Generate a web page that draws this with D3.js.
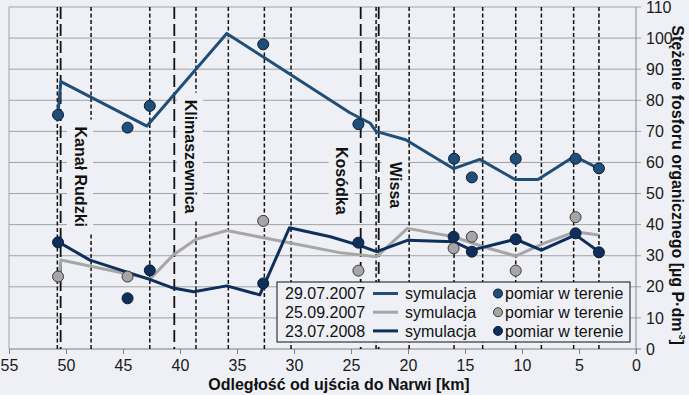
<!DOCTYPE html>
<html>
<head>
<meta charset="utf-8">
<script src="https://cdn.jsdelivr.net/npm/d3@7"></script>
<style>
    html, body { margin: 0; padding: 0; background: #eef0f5; }
    svg { display: block; font-family: "Liberation Sans", Arial, sans-serif; }
</style>
</head>
<body>
<div id="chart"></div>
<script>
// Organic phosphorus along the river: simulation vs field measurements

const kmTicks = [55, 50, 45, 40, 35, 30, 25, 20, 15, 10, 5, 0];
const valueTicks = [0, 10, 20, 30, 40, 50, 60, 70, 80, 90, 100, 110];

// simulation lines [km, value]
const sim20070729 = [[50.7, 76], [50.45, 86], [42.9, 71.7], [35.9, 101.5], [25.1, 76], [23.3, 72.6],
    [22.8, 70], [20.2, 67.3], [16.0, 58], [13.7, 61], [10.6, 54.5], [8.6, 54.5], [5.4, 62], [3.25, 58]];
const sim20070925 = [[50.6, 24.4], [50.45, 28.6], [42.6, 22.6], [40.6, 30.2], [38.6, 35.3], [35.9, 38.1],
    [26.0, 31], [22.75, 29.7], [20.05, 38.8], [16.0, 36.1], [13.4, 32.9], [10.55, 29.9], [8.1, 34],
    [5.35, 37.7], [3.3, 36.7]];
const sim20080723 = [[50.7, 34.5], [47.9, 28.6], [42.6, 22.3], [40.6, 19.6], [38.8, 18.4], [35.9, 20.3],
    [33.0, 17.4], [30.4, 39], [26.8, 36.1], [24.35, 33.4], [22.75, 31.3], [20.0, 35], [16.0, 34.5],
    [14.4, 31.8], [10.55, 35.3], [8.3, 31.8], [5.3, 36.7], [3.25, 31.3]];

// field measurements [km, value]
const meas20070729 = [[50.7, 75.3], [44.6, 71.2], [42.65, 78.2], [32.7, 98], [24.35, 72.3], [15.96, 61.2],
    [14.4, 55.2], [10.55, 61.2], [5.3, 61.2], [3.25, 58.1]];
const meas20070925 = [[50.7, 23.3], [44.6, 23.3], [32.7, 41.2], [24.35, 25.2], [16.0, 32.4], [14.4, 36.1],
    [10.55, 25.2], [5.3, 42.4]];
const meas20080723 = [[50.7, 34.3], [44.6, 16.3], [42.65, 25.3], [32.7, 21.1], [24.35, 34.2], [16.0, 36.1],
    [14.4, 31.3], [10.55, 35.3], [5.3, 37.2], [3.25, 31.1]];

// cross-sections (short dash) and tributary mouths (long dash)
const sectionKm = [50.76, 47.8, 42.65, 38.6, 35.76, 32.6, 30.26, 22.8, 19.9, 15.96, 13.45, 10.55, 8.3, 5.47, 3.25];
const tributaryKm = [50.47, 40.5, 24.15, 22.57];

const tributaryNames = ["Kanał Rudzki", "Klimaszewnica", "Kosódka", "Wissa"];
const tributaryLabelKm = [48.77, 39.12, 25.82, 21.14];
const tributaryLabelVal = [55.4, 61.9, 54.1, 52.7];

const legendDates = ["29.07.2007", "25.09.2007", "23.07.2008"];
const seriesColors = ["#1f4e79", "#a6a6a6", "#0e2f5b"];

const width = 689, height = 395;
const bg = "#eef0f5";
const margin = { top: 7, right: 53, bottom: 46, left: 9 };

const svg = d3.select("#chart").append("svg")
    .attr("width", width)
    .attr("height", height);

svg.append("rect").attr("width", width).attr("height", height).attr("fill", bg);

const x = d3.scaleLinear().domain([55, 0]).range([margin.left, width - margin.right]);
const y = d3.scaleLinear().domain([0, 110]).range([height - margin.bottom, margin.top]);

// Horizontal gridlines (extend past the right axis as ticks)
svg.append("g")
    .selectAll("line")
    .data(valueTicks)
    .enter().append("line")
    .attr("x1", x(55))
    .attr("x2", x(0) + 5)
    .attr("y1", d => y(d))
    .attr("y2", d => y(d))
    .attr("stroke", d => d === 0 ? "#7f7f7f" : "#a3a3a3")
    .attr("stroke-width", 1);

// Left border and right axis line
svg.append("line")
    .attr("x1", x(55)).attr("x2", x(55))
    .attr("y1", y(110)).attr("y2", y(0))
    .attr("stroke", "#a3a3a3");
svg.append("line")
    .attr("x1", x(0)).attr("x2", x(0))
    .attr("y1", y(110)).attr("y2", y(0) + 5)
    .attr("stroke", "#8a8a8a");

// Bottom axis
const xAxis = d3.axisBottom(x)
    .tickValues(kmTicks)
    .tickSize(5)
    .tickFormat(d => d);

svg.append("g")
    .attr("transform", `translate(0,${y(0)})`)
    .call(xAxis)
    .call(g => g.select(".domain").remove())
    .call(g => g.selectAll(".tick line").attr("stroke", "#7f7f7f"))
    .call(g => g.selectAll(".tick text")
        .attr("font-size", 16)
        .attr("font-family", "Liberation Sans, Arial, sans-serif")
        .attr("fill", "#1a1a1a")
        .attr("dy", "0.32em")
        .attr("y", 17));

// Right axis labels
const yAxis = d3.axisRight(y)
    .tickValues(valueTicks)
    .tickSize(0)
    .tickPadding(10)
    .tickFormat(d => d);

svg.append("g")
    .attr("transform", `translate(${x(0)},0)`)
    .call(yAxis)
    .call(g => g.select(".domain").remove())
    .call(g => g.selectAll(".tick text")
        .attr("font-size", 16)
        .attr("font-family", "Liberation Sans, Arial, sans-serif")
        .attr("fill", "#1a1a1a"));

// Cross-section lines
svg.append("g")
    .selectAll("line")
    .data(sectionKm)
    .enter().append("line")
    .attr("x1", d => x(d)).attr("x2", d => x(d))
    .attr("y1", y(110)).attr("y2", y(0))
    .attr("stroke", "#111")
    .attr("stroke-width", 1.5)
    .attr("stroke-dasharray", "4,2.5");

// Tributary labels with background boxes (hide grid behind them)
const labelG = svg.append("g");
tributaryNames.forEach((name, i) => {
    const cx = x(tributaryLabelKm[i]);
    const cy = y(tributaryLabelVal[i]);
    const g = labelG.append("g");
    const rect = g.append("rect").attr("fill", bg);
    const t = g.append("text")
        .attr("transform", `translate(${cx},${cy}) rotate(90)`)
        .attr("text-anchor", "middle")
        .attr("dominant-baseline", "central")
        .attr("font-size", 16)
        .attr("font-weight", "bold")
        .attr("fill", "#111")
        .text(name);
    const len = t.node().getComputedTextLength();
    rect.attr("x", cx - 13).attr("y", cy - len / 2 - 7)
        .attr("width", 26).attr("height", len + 14);
});

// Tributary mouth lines
svg.append("g")
    .selectAll("line")
    .data(tributaryKm)
    .enter().append("line")
    .attr("x1", d => x(d)).attr("x2", d => x(d))
    .attr("y1", y(110)).attr("y2", y(0))
    .attr("stroke", "#111")
    .attr("stroke-width", 1.8)
    .attr("stroke-dasharray", "12,5");

// Simulation lines
const line = d3.line()
    .x(d => x(d[0]))
    .y(d => y(d[1]));

const sims = [sim20070925, sim20070729, sim20080723];
const simColors = [seriesColors[1], seriesColors[0], seriesColors[2]];
sims.forEach((s, i) => {
    svg.append("path")
        .datum(s)
        .attr("d", line)
        .attr("fill", "none")
        .attr("stroke", simColors[i])
        .attr("stroke-width", 3)
        .attr("stroke-linejoin", "round");
});

// Measurement points
const meas = [meas20070729, meas20070925, meas20080723];
meas.forEach((m, i) => {
    svg.append("g")
        .selectAll("circle")
        .data(m)
        .enter().append("circle")
        .attr("cx", d => x(d[0]))
        .attr("cy", d => y(d[1]))
        .attr("r", 5.5)
        .attr("fill", seriesColors[i])
        .attr("stroke", i === 1 ? "#3a3a3a" : "#0a1c33")
        .attr("stroke-width", 1);
});

// Legend
const legend = svg.append("g").attr("transform", "translate(277,282)");
legend.append("rect")
    .attr("width", 353).attr("height", 60)
    .attr("fill", bg)
    .attr("stroke", "#111")
    .attr("stroke-width", 1);

legendDates.forEach((d, i) => {
    const row = legend.append("g").attr("transform", `translate(0,${11.5 + i * 18.7})`);
    row.append("text")
        .attr("x", 8).attr("dy", "0.35em")
        .attr("font-size", 16).attr("fill", "#111")
        .text(d);
    row.append("line")
        .attr("x1", 96).attr("x2", 121)
        .attr("stroke", seriesColors[i]).attr("stroke-width", 3);
    row.append("text")
        .attr("x", 128).attr("dy", "0.35em")
        .attr("font-size", 16).attr("fill", "#111")
        .text("symulacja");
    row.append("circle")
        .attr("cx", 221).attr("r", 4.5)
        .attr("fill", seriesColors[i])
        .attr("stroke", i === 1 ? "#3a3a3a" : "#0a1c33");
    row.append("text")
        .attr("x", 228).attr("dy", "0.35em")
        .attr("font-size", 16).attr("fill", "#111")
        .text("pomiar w terenie");
});

// Axis titles
svg.append("text")
    .attr("x", 339).attr("y", 390)
    .attr("text-anchor", "middle")
    .attr("font-size", 16)
    .attr("font-weight", "bold")
    .attr("fill", "#111")
    .text("Odległość od ujścia do Narwi [km]");

const yTitle = svg.append("text")
    .attr("transform", "translate(678,185) rotate(90)")
    .attr("text-anchor", "middle")
    .attr("dominant-baseline", "central")
    .attr("font-size", 16)
    .attr("font-weight", "bold")
    .attr("fill", "#111");
yTitle.append("tspan").text("Stężenie fosforu organicznego [µg P·dm");
yTitle.append("tspan").attr("font-size", 9).attr("dy", -4).text("-3");
yTitle.append("tspan").attr("dy", 4).text("]");
</script>
</body>
</html>
